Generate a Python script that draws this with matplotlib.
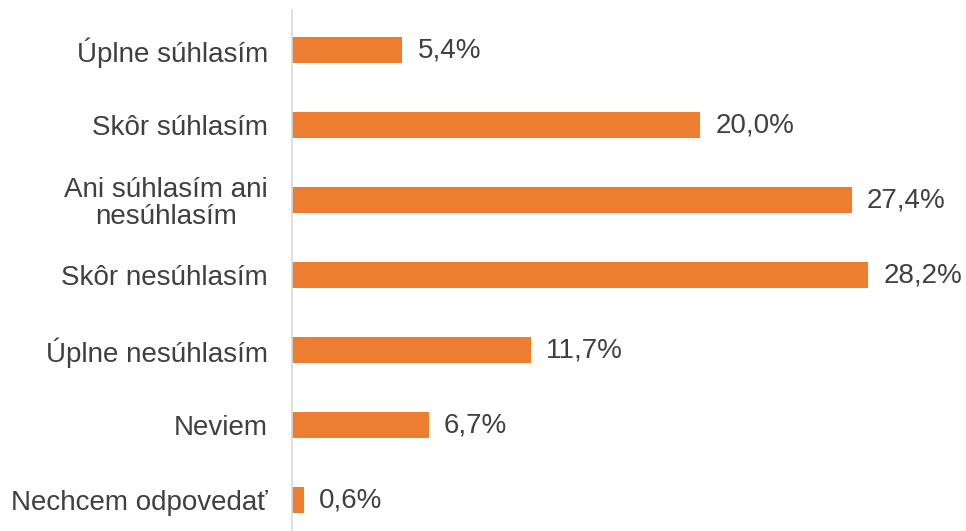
import matplotlib.pyplot as plt

categories = ["Úplne súhlasím", "Skôr súhlasím", "Ani súhlasím ani\nnesúhlasím",
              "Skôr nesúhlasím", "Úplne nesúhlasím", "Neviem", "Nechcem odpovedať"]
values = [5.4, 20.0, 27.4, 28.2, 11.7, 6.7, 0.6]
labels = ["5,4%", "20,0%", "27,4%", "28,2%", "11,7%", "6,7%", "0,6%"]

plt.rcParams['font.family'] = ['Liberation Sans', 'DejaVu Sans']

fig = plt.figure(figsize=(9.66, 5.31), dpi=100)
ax = fig.add_axes([0.302, 0.0, 0.698, 0.981])

y = list(range(len(categories)))
ax.barh(y, values, height=0.35, color="#ED7D31")
for yi, v, lab in zip(y, values, labels):
    ax.text(v + 0.75, yi, lab, va="center", ha="left", fontsize=20, color="#404040")

ax.set_xlim(0, 33)
ax.set_ylim(6.413, -0.533)
ax.set_yticks(y)
ax.set_yticklabels(categories, fontsize=20, color="#404040", linespacing=1.05,
                   multialignment="center")
ax.tick_params(axis="y", length=0, pad=17)
ax.set_xticks([])
for s in ["top", "right", "bottom"]:
    ax.spines[s].set_visible(False)
ax.spines["left"].set_color("#D9D9D9")
ax.spines["left"].set_linewidth(1.2)

plt.savefig("out.png", dpi=100)
